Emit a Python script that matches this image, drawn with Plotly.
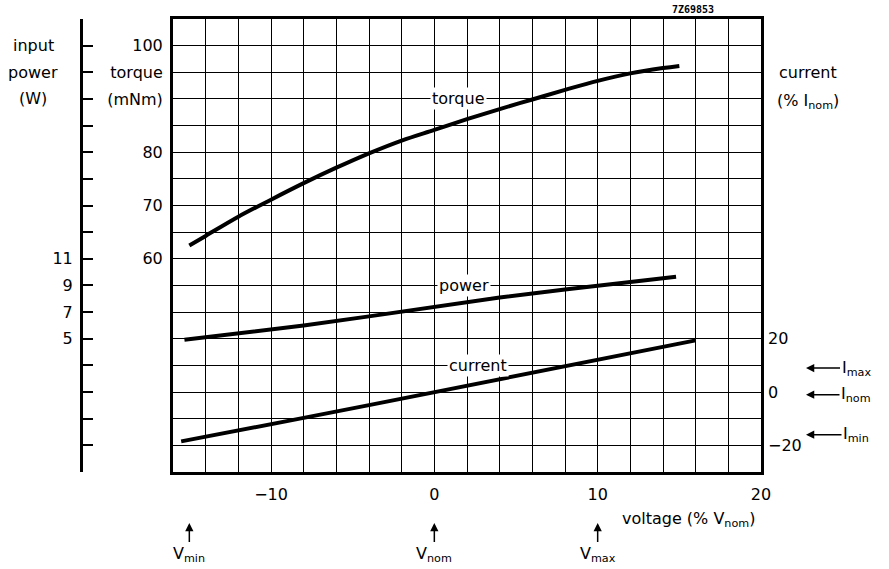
import plotly.graph_objects as go

# curves, x = supply voltage (% of Vnom)
torque_v = [-15, -14, -12, -10, -8, -6, -4, -2, 0, 2, 4, 6, 8, 10, 12, 14, 15]
torque = [62.5, 64.3, 67.9, 71.1, 74.2, 77.1, 79.8, 82.2, 84.2, 86.2, 88.1, 89.9, 91.7, 93.4, 94.8, 95.8, 96.2]

power_v = [-15.3, -12, -8, -4, 0, 4, 8, 12, 14.8]
power = [4.92, 5.38, 6.0, 6.68, 7.4, 8.1, 8.7, 9.25, 9.65]

current_v = [-15.5, -12, -8, -4, 0, 4, 8, 12, 16]
current = [-18.5, -14.5, -9.7, -4.9, 0, 5.0, 9.8, 14.6, 19.4]

# ticks / labels
x_ticks = list(range(-16, 21, 2))
x_labels = {-10: "\u221210", 0: "0", 10: "10", 20: "20"}
torque_ticks = list(range(20, 106, 5))
torque_labels = {60: "60", 70: "70", 80: "80", 90: "(mNm)", 95: "torque", 100: "100"}
power_ticks = list(range(-5, 30, 2))
power_labels = {5: "5", 7: "7", 9: "9", 11: "11"}
current_ticks = [-20, 0, 20]
current_labels = ["\u221220", "0", "20"]

W, H = 889, 569
L, R, T, B = 60, 128, 19, 97
PW, PH = W - L - R, H - T - B


def px(x):
    return (x - L) / PW


def py(y):
    return (H - B - y) / PH


FONT = "DejaVu Sans"
fig = go.Figure()
fig.add_trace(go.Scatter(x=torque_v, y=torque, mode="lines", line=dict(color="black", width=4, shape="spline"),
                         yaxis="y"))
fig.add_trace(go.Scatter(x=power_v, y=power, mode="lines", line=dict(color="black", width=4), yaxis="y2"))
fig.add_trace(go.Scatter(x=current_v, y=current, mode="lines", line=dict(color="black", width=4), yaxis="y3"))

fig.update_layout(
    width=W, height=H,
    margin=dict(l=L, r=R, t=T, b=B),
    paper_bgcolor="white", plot_bgcolor="white",
    showlegend=False,
    font=dict(family=FONT, size=16, color="black"),
    xaxis=dict(range=[-16, 20], domain=[px(173), 1],
               tickvals=x_ticks, ticktext=[x_labels.get(v, "") for v in x_ticks],
               showgrid=True, gridcolor="black", gridwidth=1.3,
               showline=True, mirror=True, linecolor="black", linewidth=3,
               zeroline=False, ticks="", ticklabelstandoff=6),
    yaxis=dict(range=[20, 105], tickvals=torque_ticks,
               ticktext=[torque_labels.get(v, "") for v in torque_ticks],
               showgrid=True, gridcolor="black", gridwidth=1.3,
               showline=True, mirror=True, linecolor="black", linewidth=3,
               zeroline=False, ticks="", ticklabelstandoff=4),
    yaxis2=dict(range=[-5, 29], overlaying="y", anchor="free", position=px(81), side="left",
                tickvals=power_ticks, ticktext=[power_labels.get(v, "") for v in power_ticks],
                showgrid=False, zeroline=False, showline=True, linecolor="black", linewidth=3,
                ticks="inside", ticklen=10, tickwidth=2, tickcolor="black", ticklabelstandoff=4),
    yaxis3=dict(range=[-30, 140], overlaying="y", anchor="x", side="right",
                tickvals=current_ticks, ticktext=current_labels,
                showgrid=False, zeroline=False, showline=False, ticks="", ticklabelstandoff=6),
)

ann = []
# left title
for txt, yv in [("input", 100), ("power", 95), ("(W)", 90)]:
    ann.append(dict(text=txt, xref="paper", x=px(33), yref="y", y=yv, showarrow=False, xanchor="center"))
# right title
ann.append(dict(text="current", xref="paper", x=px(777), yref="y", y=95, showarrow=False, xanchor="left"))
ann.append(dict(text="(% I<sub>nom</sub>)", xref="paper", x=px(775), yref="y", y=89.5, showarrow=False,
                xanchor="left"))
# curve labels sitting on grid lines
ann.append(dict(text="torque", x=1.5, xref="x", y=90, yref="y", showarrow=False, bgcolor="white", borderpad=1))
ann.append(dict(text="power", x=1.8, xref="x", y=9, yref="y2", showarrow=False, bgcolor="white", borderpad=1))
ann.append(dict(text="current", x=2.7, xref="x", y=10, yref="y3", showarrow=False, bgcolor="white", borderpad=1))
# axis title
ann.append(dict(text="voltage (% V<sub>nom</sub>)", xref="paper", x=px(757), yref="paper", y=py(532),
                showarrow=False, xanchor="right"))
# figure code
ann.append(dict(text="<b>7Z69853</b>", xref="paper", x=px(716), yref="paper", y=py(9), showarrow=False,
                yanchor="middle", font=dict(family="DejaVu Sans Mono", size=10)))
# current limits
for txt, yv in [("I<sub>max</sub>", 9), ("I<sub>nom</sub>", -1), ("I<sub>min</sub>", -16)]:
    ann.append(dict(text=txt, xref="paper", x=px(806), yref="y3", y=yv, showarrow=True,
                    ax=50, ay=0, arrowhead=2, arrowsize=1.1, arrowwidth=1.5, arrowcolor="black"))
# voltage limits
for txt, xv in [("V<sub>min</sub>", -15), ("V<sub>nom</sub>", 0), ("V<sub>max</sub>", 10)]:
    ann.append(dict(text=txt, xref="x", x=xv, yref="paper", y=py(523), showarrow=True,
                    ax=0, ay=31, arrowhead=2, arrowsize=1.1, arrowwidth=1.5, arrowcolor="black"))
fig.update_layout(annotations=ann)

fig.write_html("out.html", config={"displayModeBar": False},
               post_script="document.body.style.margin='0';")
